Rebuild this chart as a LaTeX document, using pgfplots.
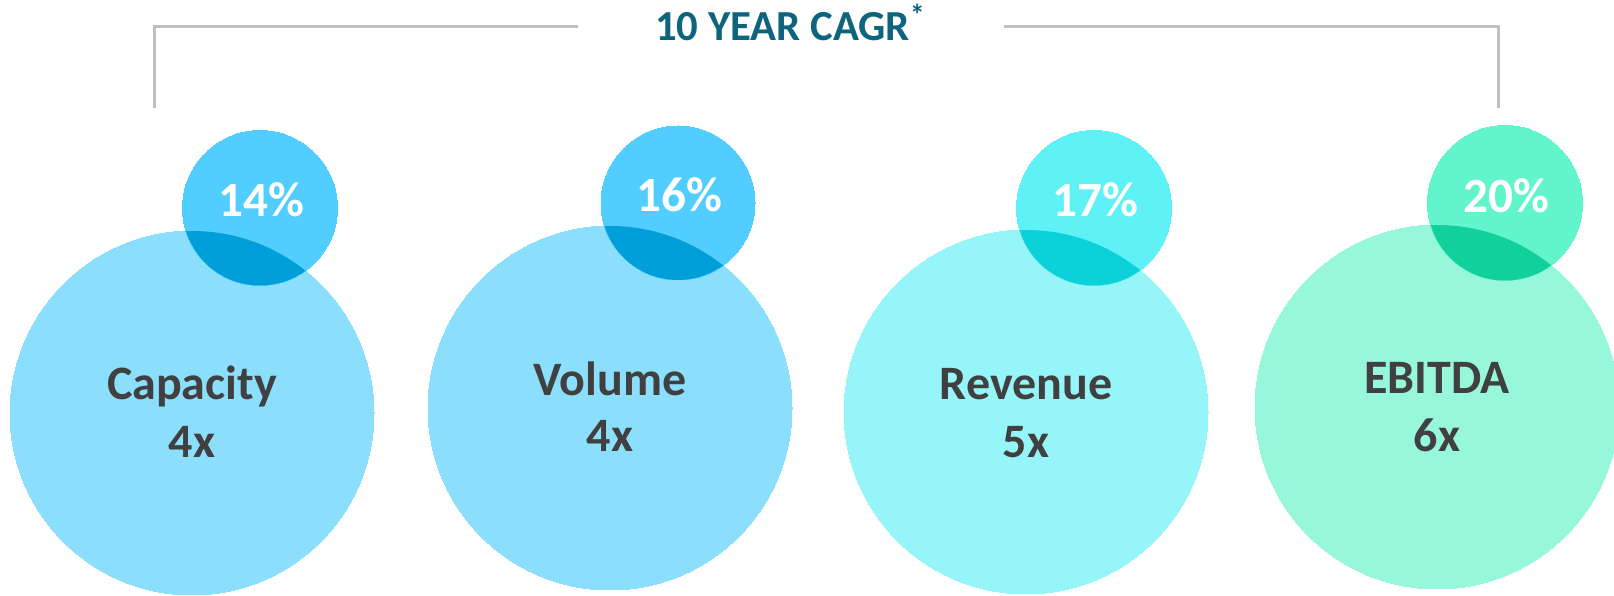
\documentclass[border=0pt]{standalone}
\usepackage{fontspec}
\setmainfont{Carlito}
\usepackage{pgfplots}
\usepackage{pgfplotstable}
\pgfplotsset{compat=1.18}

\definecolor{bigblue}{HTML}{8BDFFD}
\definecolor{smallblue}{HTML}{52CDFF}
\definecolor{lensblue}{HTML}{009FD9}
\definecolor{bigcyan}{HTML}{96F5F9}
\definecolor{smallcyan}{HTML}{5EF1F5}
\definecolor{lenscyan}{HTML}{0CD1D9}
\definecolor{biggreen}{HTML}{96F7DB}
\definecolor{smallgreen}{HTML}{62F5CC}
\definecolor{lensgreen}{HTML}{12D09B}
\definecolor{labelgray}{HTML}{404040}
\definecolor{titleteal}{HTML}{0E637D}
\definecolor{bracketgray}{HTML}{C0C0C0}

\tikzset{
  lbl/.style={anchor=base, text=labelgray, font=\bfseries\fontsize{12}{14}\selectfont},
  pct/.style={anchor=base, text=white, font=\bfseries\fontsize{12.3}{14}\selectfont},
}

% one row per group: big circle (bx,by,br), small circle (sx,sy,sr), in pixels
\pgfplotstableread{
bx by br sx sy sr
192 413 182 260 208 77.5
}\capacity
\pgfplotstableread{
bx by br sx sy sr
610 408 182 678 203 77
}\volume
\pgfplotstableread{
bx by br sx sy sr
1026 412 182 1094 208 77.5
}\revenue
\pgfplotstableread{
bx by br sx sy sr
1437 407 182 1505 203 77.5
}\ebitda

% part of the small circle that lies inside the big one
\pgfdeclareplotmark{lens}{%
  \pgfpathcircle{\pgfpoint{\lensdx pt}{\lensdy pt}}{\lensR pt}%
  \pgfusepath{clip}%
  \pgfpathcircle{\pgfpointorigin}{\pgfplotmarksize}%
  \pgfusepath{fill}}

\newcommand\bubble[4]{%
  \addplot[scatter, only marks, mark=*,
    point meta=\thisrow{br}, point meta min=0, point meta max=1000,
    visualization depends on={0.25*\thisrow{br} \as \rad},
    scatter/@pre marker code/.code={\scope[mark size=\rad, fill=#2, draw=#2, line width=0pt]},
    scatter/@post marker code/.code={\endscope}]
    table[x=bx, y=by] {#1};
  \addplot[scatter, only marks, mark=*,
    point meta=\thisrow{sr}, point meta min=0, point meta max=1000,
    visualization depends on={0.25*\thisrow{sr} \as \rad},
    scatter/@pre marker code/.code={\scope[mark size=\rad, fill=#3, draw=#3, line width=0pt]},
    scatter/@post marker code/.code={\endscope}]
    table[x=sx, y=sy] {#1};
  \addplot[scatter, only marks, mark=lens,
    point meta=\thisrow{sr}, point meta min=0, point meta max=1000,
    visualization depends on={0.25*\thisrow{sr} \as \rad},
    visualization depends on={0.25*(\thisrow{bx}-\thisrow{sx}) \as \lensdx},
    visualization depends on={-0.25*(\thisrow{by}-\thisrow{sy}) \as \lensdy},
    visualization depends on={0.25*\thisrow{br} \as \lensR},
    scatter/@pre marker code/.code={\scope[mark size=\rad, fill=#4]},
    scatter/@post marker code/.code={\endscope}]
    table[x=sx, y=sy] {#1};
}

\begin{document}
\begin{tikzpicture}
\begin{axis}[
    at={(0,0)}, anchor=south west,
    x=0.25pt, y=0.25pt, y dir=reverse,
    xmin=0, xmax=1614, ymin=0, ymax=596,
    hide axis,
    clip marker paths=true,
]
\addplot[no marks, draw=bracketgray, line width=0.75pt] coordinates {(154,108) (154,27) (578,27)};
\addplot[no marks, draw=bracketgray, line width=0.75pt] coordinates {(1004,27) (1498,27) (1498,108)};

\bubble{\capacity}{bigblue}{smallblue}{lensblue}
\bubble{\volume}{bigblue}{smallblue}{lensblue}
\bubble{\revenue}{bigcyan}{smallcyan}{lenscyan}
\bubble{\ebitda}{biggreen}{smallgreen}{lensgreen}

\node[anchor=base, text=titleteal, font=\bfseries\fontsize{10.7}{12}\selectfont] at (axis cs:791,41) {10 YEAR CAGR\textsuperscript{*}};

\node[lbl] at (axis cs:192,400) {Capacity};
\node[lbl] at (axis cs:192,458) {4x};
\node[lbl] at (axis cs:610,396) {Volume};
\node[lbl] at (axis cs:610,452) {4x};
\node[lbl] at (axis cs:1026,400) {Revenue};
\node[lbl] at (axis cs:1026,458) {5x};
\node[lbl] at (axis cs:1437,394) {EBITDA};
\node[lbl] at (axis cs:1437,452) {6x};

\node[pct] at (axis cs:261,217) {14\%};
\node[pct] at (axis cs:679,212) {16\%};
\node[pct] at (axis cs:1095,217) {17\%};
\node[pct] at (axis cs:1506,213) {20\%};
\end{axis}
\pgfresetboundingbox
\useasboundingbox (0,0) rectangle (403.5pt,149pt);
\end{tikzpicture}
\end{document}
